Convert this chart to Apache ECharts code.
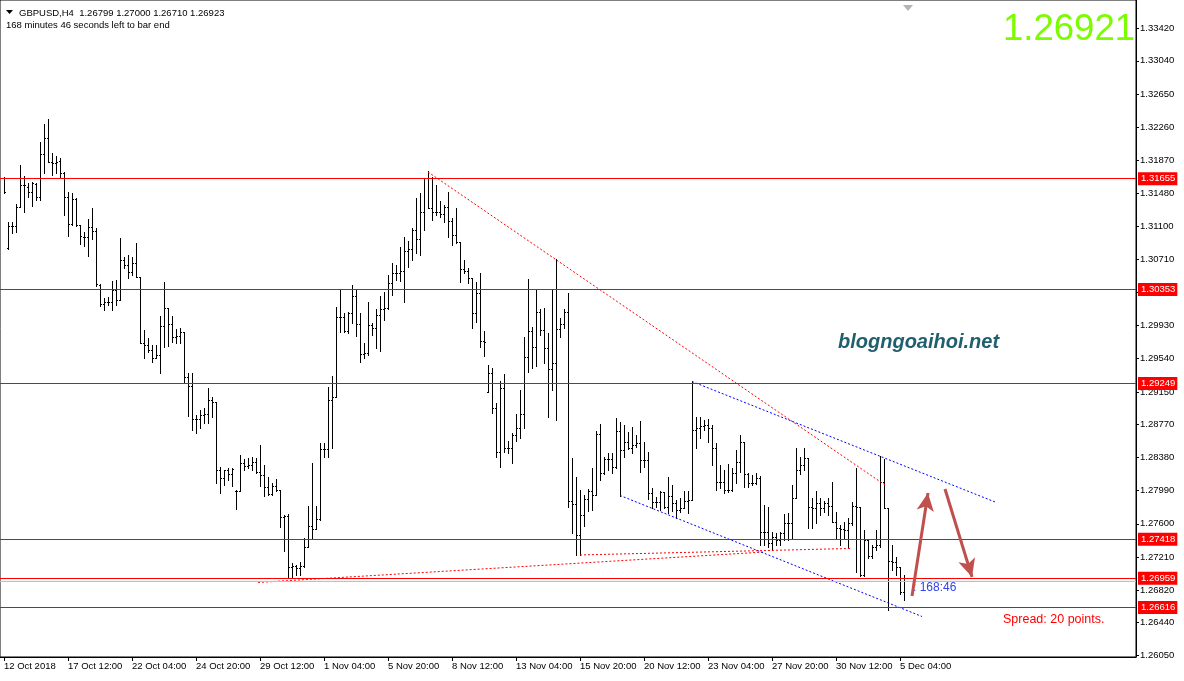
<!DOCTYPE html>
<html><head><meta charset="utf-8">
<script src="https://cdn.jsdelivr.net/npm/echarts@6/dist/echarts.min.js"></script>
<style>html,body{margin:0;padding:0;background:#fff;}#c{width:1184px;height:681px;}</style>
</head><body><div id="c"></div>
<script>
const symbolName = 'GBPUSD,H4';
const opens = [1.31660,1.30837,1.31096,1.31096,1.31326,1.31578,1.31561,1.31503,1.31593,1.31437,1.31942,1.32130,1.31855,1.31843,1.31863,1.31719,1.31437,1.31123,1.31413,1.31111,
1.30974,1.30974,1.31084,1.31037,1.30406,1.30183,1.30210,1.30203,1.30347,1.30230,1.30700,1.30641,1.30555,1.30661,1.30500,1.29728,1.29701,1.29642,1.29545,1.29584,
1.29924,1.30132,1.29948,1.29799,1.29811,1.29858,1.29329,1.29219,1.28832,1.28828,1.28879,1.28887,1.29055,1.29035,1.28232,1.28142,1.28232,1.28182,1.27990,1.27986,
1.28318,1.28279,1.28291,1.28330,1.28213,1.28174,1.28036,1.27950,1.28044,1.27997,1.27684,1.27692,1.27096,1.27104,1.27077,1.27104,1.27331,1.27578,1.27536,1.27653,
1.28476,1.28476,1.29055,1.29087,1.30027,1.30027,1.29869,1.30081,1.30277,1.29948,1.29595,1.29604,1.29936,1.29897,1.30054,1.30121,1.30136,1.30426,1.30544,1.30544,
1.30571,1.30806,1.30829,1.31052,1.30947,1.31260,1.31660,1.31315,1.31268,1.31260,1.31237,1.31326,1.31158,1.30994,1.30908,1.30594,1.30571,1.30485,1.30074,1.30316,
1.29748,1.29153,1.29376,1.28957,1.28448,1.29200,1.28495,1.28487,1.28644,1.28722,1.28890,1.29557,1.29866,1.29674,1.30085,1.29877,1.29662,1.29416,1.29486,1.29886,
1.29948,1.30085,1.27872,1.27833,1.27469,1.27704,1.27888,1.27986,1.27939,1.28655,1.28201,1.28358,1.28358,1.28271,1.28694,1.28467,1.28565,1.28495,1.28526,1.28553,
1.28350,1.28350,1.27959,1.27860,1.27860,1.27978,1.27801,1.27931,1.27841,1.27762,1.27782,1.27868,1.27880,1.28702,1.28730,1.28753,1.28761,1.28730,1.28495,1.28088,
1.28088,1.27997,1.27997,1.28194,1.28330,1.28558,1.28182,1.28076,1.28076,1.28142,1.27508,1.27504,1.27371,1.27449,1.27410,1.27489,1.27606,1.27610,1.27900,1.28232,
1.28291,1.28377,1.27801,1.27782,1.27841,1.27790,1.27841,1.27813,1.27625,1.27547,1.27539,1.27527,1.27606,1.27813,1.27801,1.26999,1.27410,1.27222,1.27331,1.27351,
1.28095,1.27782,1.27167,1.27155,1.27089,1.26799];
const highs = [1.31679,1.31143,1.31143,1.31354,1.31816,1.31687,1.31601,1.31620,1.31601,1.32083,1.32298,1.32357,1.31954,1.31922,1.31895,1.31738,1.31503,1.31484,1.31425,1.31111,
1.31033,1.31182,1.31307,1.31080,1.30418,1.30250,1.30269,1.30457,1.30465,1.30958,1.30739,1.30759,1.30739,1.30896,1.30504,1.29877,1.29780,1.29701,1.29701,1.30042,
1.30445,1.30132,1.30042,1.29886,1.29897,1.29858,1.29376,1.29376,1.28879,1.28937,1.28957,1.29192,1.29094,1.29035,1.28271,1.28232,1.28252,1.28252,1.27997,1.28409,
1.28358,1.28370,1.28389,1.28370,1.28526,1.28291,1.28154,1.28076,1.28123,1.27997,1.27704,1.27715,1.27136,1.27116,1.27155,1.27430,1.27809,1.28311,1.27809,1.28553,
1.28553,1.29204,1.29337,1.30144,1.30347,1.30074,1.30093,1.30406,1.30347,1.30081,1.29728,1.30210,1.29956,1.30121,1.30277,1.30324,1.30524,1.30661,1.30641,1.30856,
1.30974,1.30923,1.31072,1.31432,1.31484,1.31660,1.31746,1.31679,1.31581,1.31393,1.31346,1.31503,1.31190,1.31307,1.30908,1.30700,1.30602,1.30485,1.30445,1.30544,
1.29866,1.29466,1.29427,1.29016,1.29282,1.29360,1.28577,1.28664,1.28890,1.29172,1.29799,1.30473,1.29916,1.30356,1.30121,1.30132,1.29839,1.30356,1.30708,1.30015,
1.30121,1.30309,1.28370,1.28154,1.27997,1.27939,1.28006,1.28252,1.28694,1.28773,1.28389,1.28429,1.28429,1.28840,1.28800,1.28761,1.28683,1.28741,1.28644,1.28812,
1.28565,1.28448,1.28017,1.27919,1.27986,1.27978,1.28154,1.28056,1.27880,1.27907,1.27986,1.27986,1.29278,1.28859,1.28859,1.28820,1.28828,1.28761,1.28546,1.28291,
1.28232,1.28299,1.28252,1.28467,1.28644,1.28565,1.28194,1.28174,1.28194,1.28162,1.27821,1.27801,1.27508,1.27489,1.27500,1.27712,1.27727,1.28056,1.28487,1.28389,
1.28487,1.28377,1.27900,1.27986,1.27900,1.27868,1.27907,1.28095,1.27743,1.27586,1.27625,1.27665,1.27853,1.28252,1.27801,1.27527,1.27410,1.27351,1.27527,1.28397,
1.28358,1.27782,1.27351,1.27214,1.27096,1.27000];
const lows = [1.31491,1.30826,1.31014,1.31033,1.31326,1.31268,1.31444,1.31334,1.31405,1.31405,1.31719,1.31855,1.31699,1.31719,1.31679,1.31229,1.30982,1.31111,1.31099,1.30888,
1.30864,1.30751,1.30943,1.30394,1.30159,1.30112,1.30171,1.30112,1.30171,1.30230,1.30602,1.30485,1.30524,1.30504,1.29721,1.29545,1.29623,1.29505,1.29545,1.29369,
1.29681,1.29689,1.29740,1.29728,1.29721,1.29270,1.28867,1.28702,1.28664,1.28722,1.28781,1.28781,1.28859,1.28083,1.27966,1.28056,1.28115,1.28044,1.27771,1.27986,
1.28232,1.28252,1.28232,1.28201,1.28044,1.27927,1.27939,1.27939,1.27986,1.27559,1.27284,1.26960,1.26960,1.26999,1.26999,1.27096,1.27331,1.27418,1.27536,1.27645,
1.28382,1.28389,1.28487,1.29087,1.29858,1.29858,1.29846,1.29956,1.29807,1.29505,1.29545,1.29584,1.29819,1.29662,1.29634,1.29995,1.30124,1.30289,1.30465,1.30453,
1.30210,1.30621,1.30700,1.30779,1.30759,1.31052,1.31307,1.31170,1.31229,1.31209,1.31150,1.30974,1.30876,1.30896,1.30438,1.30544,1.30426,1.29897,1.29975,1.29681,
1.29572,1.29153,1.28906,1.28389,1.28271,1.28448,1.28429,1.28318,1.28577,1.28605,1.28722,1.29388,1.29427,1.29454,1.29819,1.29486,1.28859,1.29172,1.28820,1.29792,
1.29897,1.27794,1.27496,1.27234,1.27234,1.27574,1.27754,1.27762,1.27939,1.28115,1.28182,1.28232,1.28194,1.28252,1.27931,1.28389,1.28476,1.28429,1.28506,1.28213,
1.28271,1.27888,1.27782,1.27801,1.27762,1.27782,1.27724,1.27751,1.27665,1.27735,1.27782,1.27724,1.27880,1.28495,1.28612,1.28702,1.28565,1.28291,1.27997,1.28017,
1.27959,1.27970,1.27980,1.28076,1.28213,1.28036,1.28036,1.28056,1.28064,1.27351,1.27351,1.27331,1.27292,1.27351,1.27351,1.27410,1.27410,1.27422,1.27900,1.28182,
1.28232,1.27547,1.27547,1.27606,1.27704,1.27743,1.27704,1.27618,1.27430,1.27351,1.27430,1.27312,1.27586,1.27038,1.26987,1.26987,1.27195,1.27195,1.27292,1.27331,
1.27782,1.26587,1.27057,1.26999,1.26775,1.26710];
const closes = [1.31503,1.31096,1.31096,1.31326,1.31578,1.31578,1.31503,1.31601,1.31437,1.31942,1.32130,1.31855,1.31843,1.31855,1.31719,1.31437,1.31123,1.31413,1.31111,1.30982,
1.30974,1.31084,1.31037,1.30414,1.30183,1.30210,1.30203,1.30347,1.30230,1.30700,1.30641,1.30555,1.30661,1.30504,1.29728,1.29701,1.29642,1.29545,1.29584,1.29924,
1.30132,1.29948,1.29799,1.29811,1.29858,1.29329,1.29219,1.28832,1.28828,1.28879,1.28887,1.29055,1.29035,1.28232,1.28142,1.28232,1.28182,1.28241,1.27986,1.28318,
1.28279,1.28291,1.28330,1.28213,1.28174,1.28036,1.27950,1.28044,1.27997,1.27684,1.27692,1.27096,1.27104,1.27077,1.27104,1.27331,1.27578,1.27536,1.27653,1.28476,
1.28476,1.29055,1.29087,1.30027,1.30027,1.29869,1.30081,1.30277,1.29948,1.29595,1.29604,1.29936,1.29897,1.30054,1.30121,1.30136,1.30426,1.30544,1.30544,1.30571,
1.30806,1.30829,1.31052,1.30947,1.31260,1.31660,1.31315,1.31268,1.31260,1.31237,1.31326,1.31158,1.30994,1.30908,1.30594,1.30571,1.30485,1.30074,1.30316,1.29748,
1.29740,1.29376,1.28957,1.28448,1.29200,1.28495,1.28487,1.28644,1.28722,1.28890,1.29557,1.29866,1.29674,1.30085,1.29877,1.29662,1.29416,1.29486,1.29886,1.29948,
1.30085,1.27872,1.27833,1.27469,1.27704,1.27888,1.27986,1.27939,1.28655,1.28201,1.28358,1.28358,1.28271,1.28694,1.28467,1.28565,1.28495,1.28526,1.28553,1.28350,
1.28350,1.27959,1.27860,1.27860,1.27978,1.27801,1.27931,1.27841,1.27762,1.27782,1.27868,1.27880,1.28702,1.28730,1.28753,1.28761,1.28730,1.28495,1.28088,1.28088,
1.27997,1.27997,1.28194,1.28330,1.28558,1.28182,1.28076,1.28076,1.28142,1.27508,1.27504,1.27371,1.27449,1.27410,1.27489,1.27606,1.27610,1.27900,1.28232,1.28291,
1.28377,1.27801,1.27782,1.27841,1.27790,1.27841,1.27813,1.27625,1.27547,1.27539,1.27527,1.27606,1.27813,1.27801,1.26999,1.27410,1.27222,1.27331,1.27351,1.28095,
1.27782,1.27167,1.27155,1.27089,1.26803,1.26923];

const xTickLabels = ['12 Oct 2018','17 Oct 12:00','22 Oct 04:00','24 Oct 20:00','29 Oct 12:00','1 Nov 04:00','5 Nov 20:00','8 Nov 12:00','13 Nov 04:00','15 Nov 20:00','20 Nov 12:00','23 Nov 04:00','27 Nov 20:00','30 Nov 12:00','5 Dec 04:00'];
const xTickStep = 16;
const priceTicks = [1.33420,1.33040,1.32650,1.32260,1.31870,1.31480,1.31100,1.30710,1.30320,1.29930,1.29540,1.29150,1.28770,1.28380,1.27990,1.27600,1.27210,1.26820,1.26440,1.26050];
const levelLines = [1.31655,1.30353,1.29249,1.27418,1.26959,1.26616];
const bidPrice = 1.26923;
const bigPrice = '1.26921';
const countdownText = '168:46';
const countdownLine = '168 minutes 46 seconds left to bar end';
const spreadText = 'Spread: 20 points.';
const siteText = 'blogngoaihoi.net';

const trendRed = [[106, 1.31734], [220.25, 1.28056]];
const supportA = [[63.5, 1.26911], [190.25, 1.27269]];
const supportB = [[144, 1.27234], [211.5, 1.27310]];
const channelUpper = [[172, 1.29272], [247.75, 1.27857]];
const channelLower = [[154, 1.27933], [229.5, 1.26511]];
const arrowUp = [[227, 1.26752], [231, 1.27962]];
const arrowDown = [[235.25, 1.28009], [242, 1.26975]];

const ohlc = opens.map((o, i) => [i, o, highs[i], lows[i], closes[i]]);
const last = ohlc[ohlc.length - 1];
const FONT = '"Liberation Sans", Arial, sans-serif';

function renderOHLC(params, api) {
  const i = api.value(0);
  const pO = api.coord([i, api.value(1)]);
  const pH = api.coord([i, api.value(2)]);
  const pL = api.coord([i, api.value(3)]);
  const pC = api.coord([i, api.value(4)]);
  const x = Math.round(pH[0]);
  const yH = Math.round(pH[1]), yL = Math.round(pL[1]);
  const yO = Math.round(pO[1]), yC = Math.round(pC[1]);
  return {type: 'group', children: [
    {type: 'rect', shape: {x: x, y: yH, width: 1, height: Math.max(1, yL - yH + 1)}, style: {fill: '#000'}},
    {type: 'rect', shape: {x: x - 1, y: yO, width: 1, height: 1}, style: {fill: '#000'}},
    {type: 'rect', shape: {x: x + 1, y: yC, width: 1, height: 1}, style: {fill: '#000'}}
  ]};
}

const dotted = (color) => ({color: color, width: 1, type: [2, 2]});
const xTickVals = xTickLabels.map((_, k) => k * xTickStep);

const chart = echarts.init(document.getElementById('c'), null, {renderer: 'canvas'});
chart.setOption({
  animation: false,
  backgroundColor: '#fff',
  textStyle: {fontFamily: FONT},
  grid: {left: 0, right: 48, top: 0, bottom: 24, show: true, borderColor: '#000', borderWidth: 1, backgroundColor: '#fff'},
  xAxis: {
    type: 'value', min: -1, max: 283,
    splitLine: {show: false},
    axisLine: {show: true, onZero: false, lineStyle: {color: '#000'}},
    axisTick: {show: true, customValues: xTickVals, length: 4, lineStyle: {color: '#000'}},
    axisLabel: {customValues: xTickVals, formatter: v => xTickLabels[Math.round(v / xTickStep)] || '', align: 'left', margin: 4, fontSize: 9.5, color: '#000', fontFamily: FONT}
  },
  yAxis: {
    type: 'value', position: 'right', min: 1.26035, max: 1.33755,
    splitLine: {show: false},
    axisLine: {show: true, onZero: false, lineStyle: {color: '#000'}},
    axisTick: {show: true, customValues: priceTicks, length: 3, lineStyle: {color: '#000'}},
    axisLabel: {customValues: priceTicks, formatter: v => v.toFixed(5), margin: 4, fontSize: 9.5, color: '#000', fontFamily: FONT}
  },
  series: [
    {
      type: 'line', data: [[0, bidPrice], [1, bidPrice]], symbol: 'none', lineStyle: {opacity: 0}, silent: true,
      markLine: {
        silent: true, symbol: ['none', 'none'], animation: false, precision: 5,
        lineStyle: {color: '#c0c0c0', width: 1, type: 'solid'},
        label: {show: false},
        data: [{yAxis: bidPrice}]
      }
    },
    {
      type: 'line', data: [[0, levelLines[0]], [1, levelLines[0]]], symbol: 'none', lineStyle: {opacity: 0}, silent: true,
      markLine: {
        silent: true, symbol: ['none', 'none'], animation: false, precision: 5,
        lineStyle: {color: '#ff0000', width: 1, type: 'solid'},
        label: {show: true, position: 'end', distance: 2, formatter: p => Number(p.value).toFixed(5), color: '#fff', backgroundColor: '#ff0000', padding: [2, 2, 1, 3], fontSize: 9.5, fontFamily: FONT},
        data: levelLines.map(v => ({yAxis: v}))
      }
    },
    {type: 'line', data: trendRed, symbol: 'none', silent: true, lineStyle: dotted('#ff0000')},
    {type: 'line', data: supportA, symbol: 'none', silent: true, lineStyle: dotted('#ff0000')},
    {type: 'line', data: supportB, symbol: 'none', silent: true, lineStyle: dotted('#ff0000')},
    {type: 'line', data: channelUpper, symbol: 'none', silent: true, lineStyle: dotted('#0000ff')},
    {type: 'line', data: channelLower, symbol: 'none', silent: true, lineStyle: dotted('#0000ff')},
    {
      type: 'custom', renderItem: renderOHLC, data: ohlc, encode: {x: 0, y: [1, 2, 3, 4]}, silent: true, z: 3
    },
    {
      type: 'line', data: arrowUp, symbol: 'none', lineStyle: {opacity: 0}, silent: true, z: 4,
      markLine: {
        silent: true, animation: false, precision: 5, symbol: ['none', 'arrow'], symbolSize: [13, 18],
        lineStyle: {color: '#c0504d', width: 3, type: 'solid'},
        label: {show: false},
        data: [
          [{coord: arrowUp[0]}, {coord: arrowUp[1]}],
          [{coord: arrowDown[0]}, {coord: arrowDown[1]}]
        ]
      }
    }
  ],
  graphic: [
    {type: 'polygon', shape: {points: [[6, 10], [13, 10], [9.5, 14]]}, style: {fill: '#000'}},
    {type: 'text', x: 19, y: 13, style: {text: symbolName + '  ' + [last[1], last[2], last[3], last[4]].map(v => v.toFixed(5)).join(' '), font: '9.5px ' + FONT, fill: '#000', verticalAlign: 'middle'}},
    {type: 'text', x: 6, y: 25, style: {text: countdownLine, font: '9.5px ' + FONT, fill: '#000', verticalAlign: 'middle'}},
    {type: 'polygon', shape: {points: [[903, 5], [913, 5], [908, 11]]}, style: {fill: '#b4b4b4'}},
    {type: 'text', x: 1135, y: 30, style: {text: bigPrice, font: '36.5px ' + FONT, fill: '#7cfc00', align: 'right', verticalAlign: 'middle'}},
    {type: 'text', x: 838, y: 342, style: {text: siteText, font: 'italic bold 20px ' + FONT, fill: '#1f5f6e', verticalAlign: 'middle'}},
    {type: 'text', x: 1003, y: 620, style: {text: spreadText, font: '12.5px ' + FONT, fill: '#ff0000', verticalAlign: 'middle'}},
    {type: 'text', x: 913, y: 588, style: {text: ': ' + countdownText, font: '12px ' + FONT, fill: '#3045ee', verticalAlign: 'middle'}}
  ]
});
</script>
</body></html>
